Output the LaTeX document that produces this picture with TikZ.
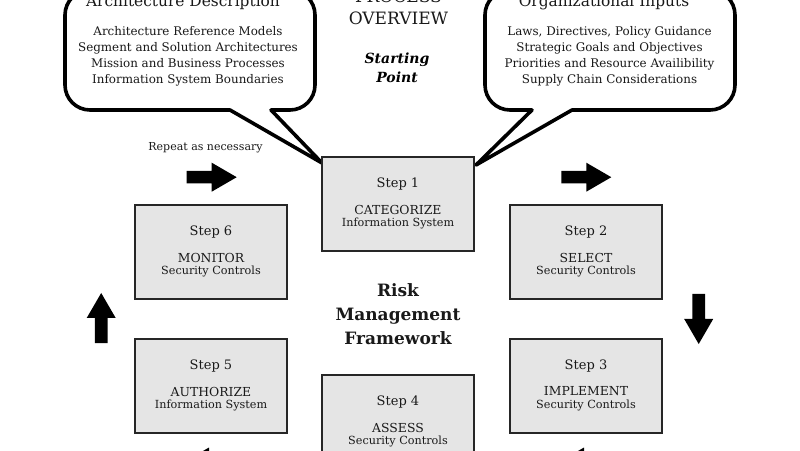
\documentclass[tikz,border=0pt]{standalone}
\usepackage{fontspec}
\setmainfont{DejaVu Serif}
\begin{document}
\begin{tikzpicture}[x=1pt,y=1pt,
  stepbox/.style={draw=black!85,line width=1.4pt,fill=black!10,minimum width=152pt,minimum height=94pt,inner sep=0pt},
  steptxt/.style={font=\fontsize{13}{15}\selectfont,text=black!90},
  maintxt/.style={font=\fontsize{12.4}{14}\selectfont,text=black!90},
  subtxt/.style={font=\fontsize{11.2}{13}\selectfont,text=black!90},
  itemtxt/.style={font=\fontsize{11.9}{13}\selectfont,text=black!90,anchor=base,inner sep=0pt},
  titletxt/.style={font=\fontsize{15.4}{17}\selectfont,text=black!90,anchor=base,inner sep=0pt},
  bubble/.style={draw=black,line width=3.6pt,fill=white,line join=round},
  barrow/.pic={\fill[black] (-25,-6.3) -- (0,-6.3) -- (0,-14.5) -- (25,0) -- (0,14.5) -- (0,6.3) -- (-25,6.3) -- cycle;}
]
\useasboundingbox (0,0) rectangle (800,450);
\clip (0,0) rectangle (800,450);
\fill[white] (0,0) rectangle (800,450);

% speech bubbles
\draw[bubble] (65,435) -- (65,365) arc[start angle=180,end angle=270,radius=25]
  -- (230,340) -- (322,287) -- (271,340) -- (290,340)
  arc[start angle=270,end angle=360,radius=25] -- (315,435)
  arc[start angle=0,end angle=90,radius=25] -- (90,460)
  arc[start angle=90,end angle=180,radius=25] -- cycle;
\draw[bubble] (485,435) -- (485,365) arc[start angle=180,end angle=270,radius=25]
  -- (532,340) -- (476,285) -- (572,340) -- (710,340)
  arc[start angle=270,end angle=360,radius=25] -- (735,435)
  arc[start angle=0,end angle=90,radius=25] -- (510,460)
  arc[start angle=90,end angle=180,radius=25] -- cycle;

\node[titletxt] (lt) at (183,443) {Architecture Description};
\node[itemtxt] (l1) at (188,414) {Architecture Reference Models};
\node[itemtxt] (l2) at (188,398.2) {Segment and Solution Architectures};
\node[itemtxt] (l3) at (188,382.4) {Mission and Business Processes};
\node[itemtxt] (l4) at (188,366.6) {Information System Boundaries};

\node[titletxt] (rt) at (604,443) {Organizational Inputs};
\node[itemtxt] (r1) at (609.5,414) {Laws, Directives, Policy Guidance};
\node[itemtxt] (r2) at (609.5,398.2) {Strategic Goals and Objectives};
\node[itemtxt] (r3) at (609.5,382.4) {Priorities and Resource Availibility};
\node[itemtxt] (r4) at (609.5,366.6) {Supply Chain Considerations};

% header
\node[font=\fontsize{17}{20}\selectfont,anchor=base,inner sep=0pt,text=black!90] (proc) at (398.5,447) {PROCESS};
\node[font=\fontsize{17}{20}\selectfont,anchor=base,inner sep=0pt,text=black!90] (ov) at (398.5,425) {OVERVIEW};
\node[font=\bfseries\itshape\fontsize{14}{16}\selectfont,anchor=base,inner sep=0pt] (sp1) at (397,386) {Starting};
\node[font=\bfseries\itshape\fontsize{14}{16}\selectfont,anchor=base,inner sep=0pt] (sp2) at (397,367) {Point};

\node[font=\fontsize{11}{13}\selectfont,text=black!90] (rep) at (205.5,302) {Repeat as necessary};

% step boxes
\node[stepbox] (s1) at (398,246) {};
\node[stepbox] (s2) at (586,198) {};
\node[stepbox] (s3) at (586,64) {};
\node[stepbox] (s4) at (398,28) {};
\node[stepbox] (s5) at (211,64) {};
\node[stepbox] (s6) at (211,198) {};

\foreach \b/\n/\m/\s in {s1/1/CATEGORIZE/Information System,
                        s2/2/SELECT/Security Controls,
                        s3/3/IMPLEMENT/Security Controls,
                        s4/4/ASSESS/Security Controls,
                        s5/5/AUTHORIZE/Information System,
                        s6/6/MONITOR/Security Controls}{
  \node[steptxt] (\b st) at ([yshift=20pt]\b.center) {Step \n};
  \node[maintxt] (\b mn) at ([yshift=-5.5pt]\b.center) {\m};
  \node[subtxt] (\b sb) at ([yshift=-19pt]\b.center) {\s};
}

\node[font=\bfseries\fontsize{17}{24}\selectfont,align=center,text=black!90] (rmf) at (398,136) {Risk\\Management\\Framework};

% block arrows
\pic at (211.7,272.8) {barrow};
\pic at (586.3,272.8) {barrow};
\pic[rotate=-90] at (698.7,131) {barrow};
\pic[rotate=90] at (101.2,132) {barrow};
\pic[rotate=180] at (209,-12) {barrow};
\pic[rotate=180] at (584,-12) {barrow};
\end{tikzpicture}
\end{document}
